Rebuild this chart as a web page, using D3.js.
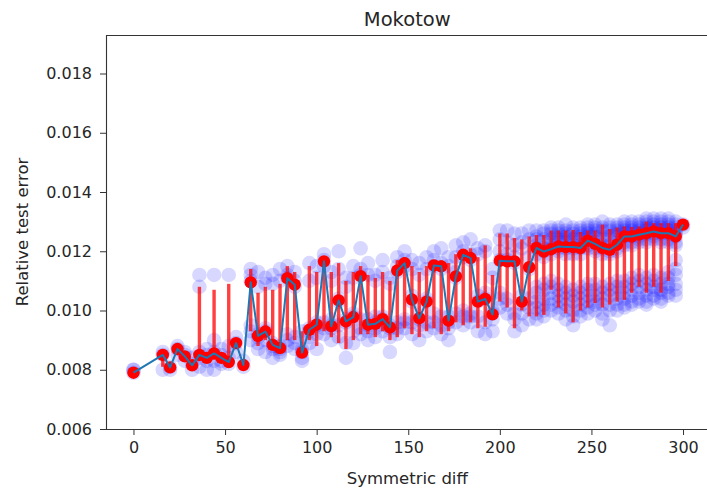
<!DOCTYPE html>
<html>
<head>
<meta charset="utf-8">
<script src="https://cdn.jsdelivr.net/npm/d3@7"></script>
<style>
  html, body { margin: 0; padding: 0; background: #fff; }
  svg { display: block; font-family: "DejaVu Sans", sans-serif; }
</style>
</head>
<body>
<svg id="chart" width="707" height="491"></svg>
<script>
// Symmetric difference sizes (x positions)
const diffs = [0, 16, 20, 24, 28, 32, 36, 40, 44, 48, 52, 56, 60,
  64, 68, 72, 76, 80, 84, 88, 92, 96, 100, 104, 108, 112, 116, 120, 124, 128,
  132, 136, 140, 144, 148, 152, 156, 160, 164, 168, 172, 176, 180, 184, 188, 192, 196,
  200, 204, 208, 212, 216, 220, 224, 228, 232, 236, 240, 244, 248, 252, 256, 260,
  264, 268, 272, 276, 280, 284, 288, 292, 296, 300];

// Mean relative test error per diff (red markers + connecting line)
const meanErr = [0.00790, 0.00850, 0.00808, 0.00870, 0.00845, 0.00815, 0.00850, 0.00840, 0.00855, 0.00840, 0.00826, 0.00890, 0.00816,
  0.01095, 0.00914, 0.00929, 0.00884, 0.00873, 0.01109, 0.01087, 0.00858, 0.00935, 0.00952, 0.01166, 0.00947, 0.01034, 0.00963, 0.00978, 0.01116, 0.00952,
  0.00955, 0.00971, 0.00943, 0.01135, 0.01160, 0.01037, 0.00974, 0.01030, 0.01152, 0.01149, 0.00966, 0.01115, 0.01188, 0.01177, 0.01030, 0.01039, 0.00987,
  0.01168, 0.01166, 0.01166, 0.01030, 0.01146, 0.01211, 0.01199, 0.01207, 0.01216, 0.01214, 0.01214, 0.01211, 0.01236, 0.01225, 0.01211, 0.01205,
  0.01222, 0.01250, 0.01250, 0.01256, 0.01261, 0.01267, 0.01261, 0.01261, 0.01250, 0.01290];

// Error bar extents
const barLow = [0.00788, 0.00810, 0.00800, 0.00850, 0.00830, 0.00808, 0.00835, 0.00825, 0.00835, 0.00830, 0.00818, 0.00870, 0.00810,
  0.00930, 0.00880, 0.00900, 0.00880, 0.00870, 0.00900, 0.00900, 0.00852, 0.00900, 0.00880, 0.00930, 0.00910, 0.00890, 0.00870, 0.00900, 0.00920, 0.00920,
  0.00910, 0.00930, 0.00900, 0.00910, 0.00940, 0.00920, 0.00910, 0.00930, 0.00940, 0.00920, 0.00930, 0.00960, 0.00950, 0.00960, 0.00940, 0.00945, 0.00975,
  0.01030, 0.01010, 0.00940, 0.01000, 0.00980, 0.00980, 0.00985, 0.01070, 0.01010, 0.00990, 0.00960, 0.01000, 0.01010, 0.01025, 0.01010, 0.01020,
  0.01030, 0.01036, 0.01060, 0.01080, 0.01060, 0.01080, 0.01060, 0.01100, 0.01150, 0.01285];

const barHigh = [0.00800, 0.00855, 0.00820, 0.00880, 0.00860, 0.00830, 0.01080, 0.00850, 0.01070, 0.00850, 0.01090, 0.00900, 0.00825,
  0.01140, 0.01060, 0.01080, 0.01070, 0.01090, 0.01150, 0.01130, 0.00930, 0.01150, 0.01130, 0.01180, 0.01130, 0.01160, 0.01100, 0.01130, 0.01150, 0.01120,
  0.01110, 0.01130, 0.01100, 0.01170, 0.01180, 0.01150, 0.01130, 0.01150, 0.01160, 0.01170, 0.01160, 0.01190, 0.01200, 0.01210, 0.01180, 0.01220, 0.01120,
  0.01260, 0.01260, 0.01245, 0.01240, 0.01250, 0.01255, 0.01255, 0.01270, 0.01270, 0.01270, 0.01272, 0.01265, 0.01270, 0.01270, 0.01290, 0.01275,
  0.01280, 0.01284, 0.01282, 0.01284, 0.01300, 0.01295, 0.01295, 0.01295, 0.01295, 0.01292];

// Individual run errors per diff (translucent blue points)
const runErrs = [
  [0.0080, 0.0080, 0.0079],
  [0.0080, 0.0085, 0.0086],
  [0.0080, 0.0081],
  [0.0087, 0.0085, 0.0088],
  [0.0083, 0.0086, 0.0085],
  [0.0080, 0.0082, 0.0084],
  [0.0112, 0.0108, 0.0086, 0.0084, 0.0081],
  [0.0085, 0.0083, 0.0087, 0.0080],
  [0.0112, 0.0090, 0.0086, 0.0083, 0.0080],
  [0.0083, 0.0085, 0.0087, 0.0082],
  [0.0112, 0.0088, 0.0084, 0.0082],
  [0.0089, 0.0091, 0.0086],
  [0.0081, 0.0083],
  [0.0114, 0.0112, 0.0110, 0.0095, 0.0093, 0.0090],
  [0.0113, 0.0108, 0.0092, 0.0091, 0.0089, 0.0087],
  [0.0111, 0.0109, 0.0094, 0.0093, 0.0090, 0.0086],
  [0.0112, 0.0109, 0.0089, 0.0088, 0.0087, 0.0084],
  [0.0114, 0.0110, 0.0088, 0.0087, 0.0086, 0.0085],
  [0.0115, 0.0112, 0.0111, 0.0092, 0.0090, 0.0088],
  [0.0113, 0.0110, 0.0108, 0.0091, 0.0089, 0.0087],
  [0.0093, 0.0087, 0.0086, 0.0084, 0.0083],
  [0.0116, 0.0110, 0.0094, 0.0093, 0.0091, 0.0089],
  [0.0115, 0.0111, 0.0096, 0.0095, 0.0092, 0.0087],
  [0.0119, 0.0117, 0.0115, 0.0096, 0.0094, 0.0092],
  [0.0113, 0.0110, 0.0097, 0.0095, 0.0094, 0.0090],
  [0.0120, 0.0114, 0.0104, 0.0103, 0.0095, 0.0091],
  [0.0111, 0.0108, 0.0097, 0.0096, 0.0089, 0.0084],
  [0.0115, 0.0111, 0.0099, 0.0098, 0.0093, 0.0089],
  [0.0121, 0.0114, 0.0112, 0.0097, 0.0094, 0.0092],
  [0.0116, 0.0112, 0.0097, 0.0095, 0.0093, 0.0090],
  [0.0112, 0.0110, 0.0098, 0.0096, 0.0094, 0.0091],
  [0.0117, 0.0113, 0.0098, 0.0097, 0.0095, 0.0093],
  [0.0111, 0.0109, 0.0095, 0.0094, 0.0091, 0.0086],
  [0.0118, 0.0115, 0.0113, 0.0096, 0.0094, 0.0092],
  [0.0120, 0.0117, 0.0115, 0.0097, 0.0096, 0.0094],
  [0.0117, 0.0114, 0.0105, 0.0103, 0.0096, 0.0092],
  [0.0116, 0.0112, 0.0099, 0.0097, 0.0095, 0.0090],
  [0.0118, 0.0114, 0.0104, 0.0103, 0.0096, 0.0093],
  [0.0120, 0.0117, 0.0115, 0.0099, 0.0096, 0.0094],
  [0.0121, 0.0116, 0.0114, 0.0098, 0.0095, 0.0092],
  [0.0118, 0.0115, 0.0098, 0.0096, 0.0094, 0.0090],
  [0.0122, 0.0118, 0.0113, 0.0111, 0.0099, 0.0096],
  [0.0123, 0.0120, 0.0118, 0.0100, 0.0098, 0.0095],
  [0.0124, 0.0119, 0.0117, 0.0099, 0.0098, 0.0096],
  [0.0121, 0.0119, 0.0105, 0.0103, 0.0098, 0.0093],
  [0.0122, 0.0120, 0.0106, 0.0104, 0.0096, 0.0092],
  [0.0114, 0.0111, 0.0100, 0.0099, 0.0097, 0.0093],
  [0.0127, 0.0124, 0.0120, 0.0117, 0.0106, 0.0104, 0.0101],
  [0.0127, 0.0123, 0.0119, 0.0117, 0.0104, 0.0102, 0.0099],
  [0.0126, 0.0122, 0.0118, 0.0116, 0.0099, 0.0097, 0.0093],
  [0.0126, 0.0123, 0.0121, 0.0105, 0.0102, 0.0099, 0.0095],
  [0.0127, 0.0124, 0.0118, 0.0114, 0.0104, 0.0101, 0.0097],
  [0.0127, 0.0125, 0.0124, 0.0122, 0.0121, 0.0119, 0.0108, 0.0106, 0.0103, 0.0101, 0.0099, 0.0097],
  [0.0127, 0.0126, 0.0124, 0.0121, 0.0120, 0.0118, 0.0109, 0.0107, 0.0104, 0.0102, 0.0100, 0.0098],
  [0.0128, 0.0127, 0.0126, 0.0124, 0.0123, 0.0122, 0.0121, 0.0119, 0.0110, 0.0108, 0.0106, 0.0104, 0.0102, 0.0100],
  [0.0128, 0.0127, 0.0126, 0.0125, 0.0124, 0.0123, 0.0121, 0.0120, 0.0109, 0.0107, 0.0105, 0.0103, 0.0101, 0.0099],
  [0.0129, 0.0127, 0.0126, 0.0125, 0.0124, 0.0123, 0.0121, 0.0119, 0.0108, 0.0106, 0.0104, 0.0102, 0.0100, 0.0097],
  [0.0128, 0.0127, 0.0126, 0.0124, 0.0123, 0.0122, 0.0121, 0.0119, 0.0107, 0.0105, 0.0103, 0.0100, 0.0098, 0.0095],
  [0.0128, 0.0127, 0.0126, 0.0125, 0.0124, 0.0122, 0.0121, 0.0119, 0.0108, 0.0106, 0.0104, 0.0102, 0.0100, 0.0098],
  [0.0129, 0.0128, 0.0127, 0.0126, 0.0125, 0.0124, 0.0122, 0.0121, 0.0109, 0.0107, 0.0105, 0.0103, 0.0101, 0.0099],
  [0.0129, 0.0128, 0.0127, 0.0126, 0.0125, 0.0123, 0.0121, 0.0120, 0.0109, 0.0107, 0.0105, 0.0103, 0.0102, 0.0100],
  [0.0130, 0.0128, 0.0127, 0.0125, 0.0124, 0.0122, 0.0121, 0.0119, 0.0108, 0.0106, 0.0104, 0.0102, 0.0099, 0.0097],
  [0.0129, 0.0128, 0.0127, 0.0125, 0.0124, 0.0122, 0.0120, 0.0119, 0.0109, 0.0107, 0.0105, 0.0102, 0.0100, 0.0095],
  [0.0129, 0.0128, 0.0127, 0.0126, 0.0125, 0.0123, 0.0121, 0.0120, 0.0110, 0.0108, 0.0106, 0.0104, 0.0102, 0.0100],
  [0.0130, 0.0129, 0.0128, 0.0127, 0.0126, 0.0125, 0.0123, 0.0122, 0.0110, 0.0108, 0.0106, 0.0104, 0.0102, 0.0101],
  [0.0130, 0.0129, 0.0128, 0.0127, 0.0126, 0.0125, 0.0123, 0.0122, 0.0111, 0.0109, 0.0107, 0.0105, 0.0103, 0.0102],
  [0.0130, 0.0129, 0.0128, 0.0127, 0.0126, 0.0125, 0.0124, 0.0123, 0.0112, 0.0110, 0.0108, 0.0106, 0.0104, 0.0103],
  [0.0131, 0.0130, 0.0129, 0.0128, 0.0127, 0.0126, 0.0124, 0.0123, 0.0111, 0.0109, 0.0107, 0.0105, 0.0103, 0.0102],
  [0.0131, 0.0130, 0.0129, 0.0128, 0.0127, 0.0126, 0.0125, 0.0124, 0.0112, 0.0110, 0.0108, 0.0107, 0.0105, 0.0104],
  [0.0131, 0.0130, 0.0129, 0.0128, 0.0127, 0.0126, 0.0124, 0.0123, 0.0111, 0.0109, 0.0107, 0.0106, 0.0104, 0.0103],
  [0.0131, 0.0130, 0.0129, 0.0128, 0.0127, 0.0126, 0.0124, 0.0123, 0.0113, 0.0111, 0.0109, 0.0108, 0.0106, 0.0105],
  [0.0130, 0.0129, 0.0128, 0.0127, 0.0126, 0.0125, 0.0123, 0.0122, 0.0117, 0.0114, 0.0112, 0.0109, 0.0107, 0.0105],
  [0.0129, 0.0128]
];

const xTicks = [0, 50, 100, 150, 200, 250, 300];
const yTicks = [0.006, 0.008, 0.010, 0.012, 0.014, 0.016, 0.018];

const svg = d3.select("#chart");
const plotLeft = 106, plotRight = 710.5, plotTop = 35, plotBottom = 429;

const x = d3.scaleLinear().domain([-15, 315]).range([plotLeft, plotRight]);
const y = d3.scaleLinear().domain([0.006, 0.0193]).range([plotBottom, plotTop]);

const pts = diffs.map((d, i) => ({ d, m: meanErr[i], lo: barLow[i], hi: barHigh[i], runs: runErrs[i] }));

svg.append("defs").append("clipPath").attr("id", "plotClip")
  .append("rect").attr("x", plotLeft).attr("y", plotTop)
  .attr("width", plotRight - plotLeft).attr("height", plotBottom - plotTop);

const plot = svg.append("g").attr("clip-path", "url(#plotClip)");

// translucent run points
plot.append("g").selectAll("circle")
  .data(pts.flatMap(p => p.runs.map(v => ({ d: p.d, v }))))
  .join("circle")
  .attr("cx", r => x(r.d))
  .attr("cy", r => y(r.v))
  .attr("r", 7.3)
  .attr("fill", "#0000ff")
  .attr("fill-opacity", 0.155);

// error bars
plot.append("g").selectAll("line")
  .data(pts)
  .join("line")
  .attr("x1", p => x(p.d)).attr("x2", p => x(p.d))
  .attr("y1", p => y(p.lo)).attr("y2", p => y(p.hi))
  .attr("stroke", "#ff0000")
  .attr("stroke-opacity", 0.75)
  .attr("stroke-width", 3.4);

// mean markers
plot.append("g").selectAll("circle")
  .data(pts)
  .join("circle")
  .attr("cx", p => x(p.d))
  .attr("cy", p => y(p.m))
  .attr("r", 6.2)
  .attr("fill", "#ff0000");

// connecting line
plot.append("path")
  .datum(pts)
  .attr("fill", "none")
  .attr("stroke", "#1f77b4")
  .attr("stroke-width", 2)
  .attr("stroke-linejoin", "round")
  .attr("d", d3.line().x(p => x(p.d)).y(p => y(p.m)));

// axes
const xAxis = svg.append("g")
  .attr("transform", `translate(0,${plotBottom})`)
  .call(d3.axisBottom(x).tickValues(xTicks).tickFormat(d3.format("d")).tickSize(6).tickPadding(7));
const yAxis = svg.append("g")
  .attr("transform", `translate(${plotLeft},0)`)
  .call(d3.axisLeft(y).tickValues(yTicks).tickFormat(d3.format(".3f")).tickSize(6).tickPadding(8));

[xAxis, yAxis].forEach(g => {
  g.select(".domain").remove();
  g.selectAll(".tick line").attr("stroke", "#333").attr("stroke-width", 1);
  g.selectAll(".tick text").attr("fill", "#262626").style("font-size", "16px").style("font-family", "DejaVu Sans");
});

// frame
svg.append("path")
  .attr("fill", "none").attr("stroke", "#333").attr("stroke-width", 1.1)
  .attr("d", `M${plotRight},${plotTop + 0.5}H${plotLeft + 0.5}V${plotBottom + 0.5}H${plotRight}`);

// title and axis labels
const midX = (plotLeft + plotRight) / 2 - 1;
svg.append("text")
  .attr("x", midX).attr("y", 26)
  .attr("text-anchor", "middle")
  .attr("fill", "#262626")
  .style("font-size", "19.5px")
  .text("Mokotow");

svg.append("text")
  .attr("x", midX).attr("y", 484)
  .attr("text-anchor", "middle")
  .attr("fill", "#262626")
  .style("font-size", "16.5px")
  .text("Symmetric diff");

svg.append("text")
  .attr("transform", `translate(28,${(plotTop + plotBottom) / 2}) rotate(-90)`)
  .attr("text-anchor", "middle")
  .attr("fill", "#262626")
  .style("font-size", "16.5px")
  .text("Relative test error");
</script>
</body>
</html>
